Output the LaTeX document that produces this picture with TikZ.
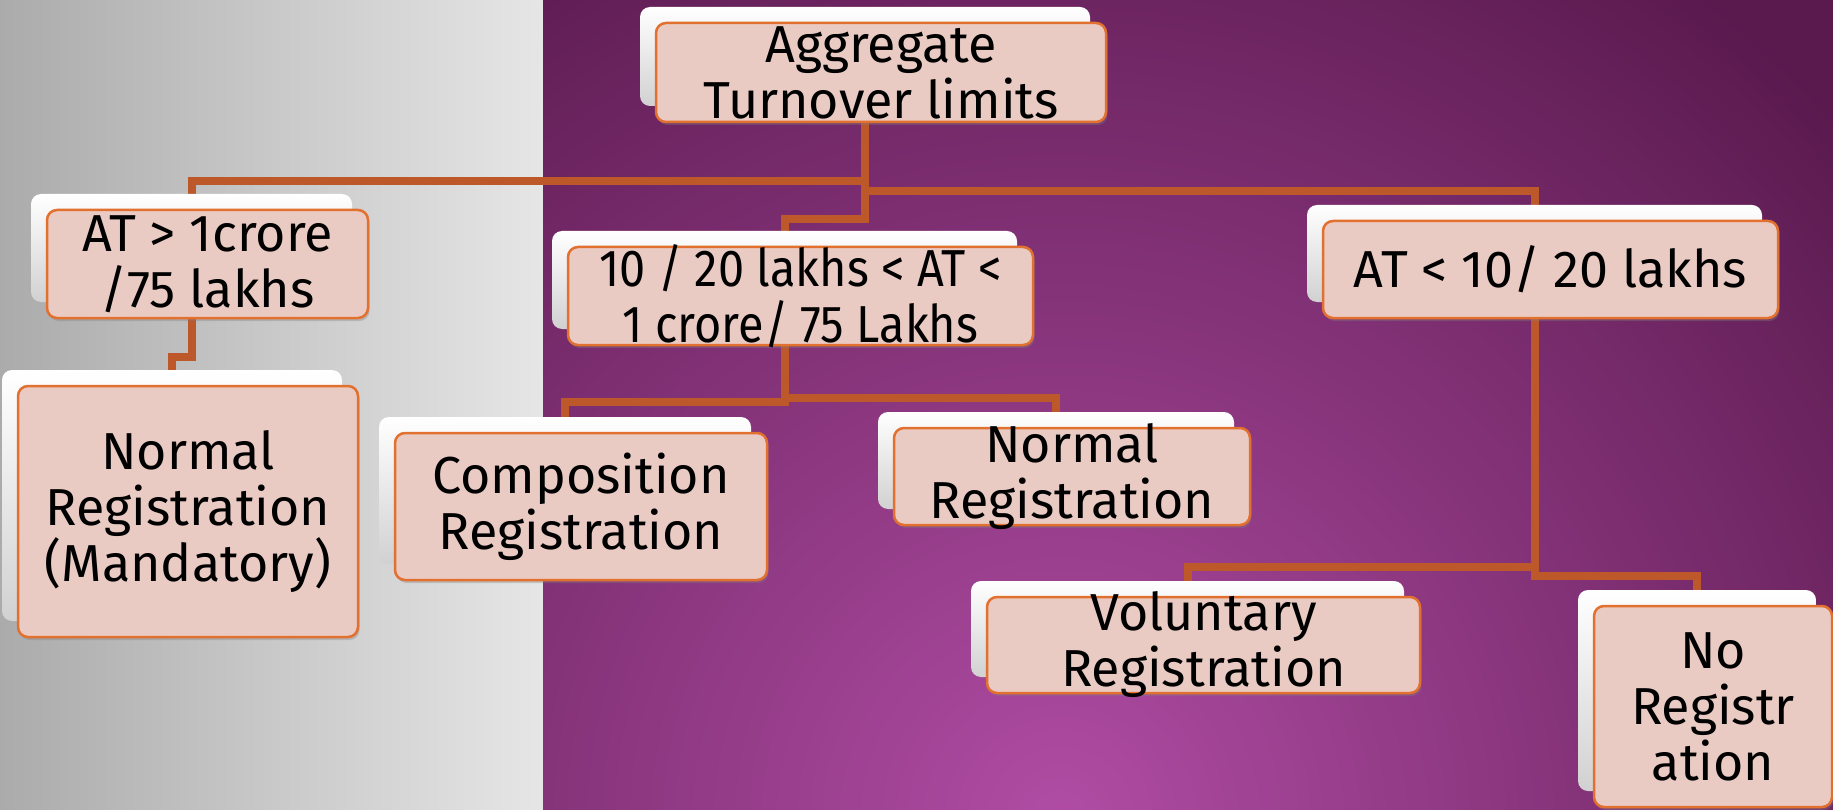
\documentclass[tikz,border=0pt]{standalone}
\usepackage{fontspec}
\setmainfont{Fira Sans}
\newfontfamily\condfont[FakeStretch=0.9]{Fira Sans}
\usetikzlibrary{calc,shadows}
\definecolor{boxfill}{HTML}{E9CBC4}
\definecolor{boxline}{HTML}{E2702F}
\definecolor{connc}{HTML}{BC5829}
\definecolor{grayL}{HTML}{ABABAB}
\definecolor{grayR}{HTML}{E6E6E6}
\definecolor{purpD}{HTML}{5A1A4E}
\definecolor{purpL}{HTML}{B04CA4}
\pgfdeclarelayer{bg}
\pgfdeclarelayer{lines}
\pgfsetlayers{bg,lines,main}
\tikzset{
  mainbox/.style={draw=boxline, line width=2.5pt, fill=boxfill, rounded corners=10pt,
    inner sep=0pt, drop shadow={opacity=0.35, shadow xshift=1.5pt, shadow yshift=-3pt}},
  backbox/.style={rounded corners=10pt, top color=white, middle color=white,
    bottom color=black!18, inner sep=0pt, draw=none},
  txt/.style={align=center, inner sep=0pt, text=black, font=\fontsize{52}{56}\selectfont},
  conn/.style={draw=connc, line width=8pt},
}
\newcommand\mybox[7][]{%
  \node[backbox, minimum width=#5pt, minimum height=#6pt] (#2b) at ($(#3,#4)+(-16,-16)$) {};
  \node[mainbox, minimum width=#5pt, minimum height=#6pt] (#2) at (#3,#4) {};
  \node[txt,#1] (#2t) at (#2.center) {#7};
}
\begin{document}
\begin{tikzpicture}[x=1pt,y=-1pt]
\useasboundingbox (0,0) rectangle (1833,810);
\begin{pgfonlayer}{bg}
  \fill[left color=grayL, right color=grayR] (0,0) rectangle (543,810);
  \begin{scope}
    \clip (543,0) rectangle (1833,810);
    \fill[purpD] (543,0) rectangle (1833,810);
    \shade[inner color=purpL, outer color=purpD] (1060,820) circle[radius=1050];
  \end{scope}
\end{pgfonlayer}

\mybox{agg}{881}{72.5}{450}{99}{Aggregate\\Turnover limits}
\mybox{at1}{207.5}{264}{321}{108}{AT > 1crore\\/75 lakhs}
\mybox{man}{188}{511.5}{340}{251}{Normal\\Registration\\(Mandatory)}
\mybox{comp}{581}{506.5}{372}{147}{Composition\\Registration}
\mybox[font=\condfont\fontsize{52}{56}\selectfont]{mid}{800.5}{296}{465}{98}{10 / 20 lakhs < AT <\\1 crore/ 75 Lakhs}
\mybox{nrm}{1072}{476.5}{356}{97}{Normal\\Registration}
\mybox{atl}{1550.5}{269.5}{455}{97}{AT < 10/ 20 lakhs}
\mybox{vol}{1203.5}{645}{433}{96}{Voluntary\\Registration}
\mybox{nor}{1713}{706.5}{238}{201}{No\\Registr\\ation}

\coordinate (yA) at (0,181);
\coordinate (yB) at (0,191);
\coordinate (yC) at (0,219);
\coordinate (yD) at (0,357);
\coordinate (yE) at (0,402);
\coordinate (yF) at (0,398);
\coordinate (yG) at (0,567);
\coordinate (yH) at (0,576);

\begin{pgfonlayer}{lines}
  \draw[conn] (aggb.south) -- (aggb.south |- yA) -| (at1b.north);
  \draw[conn] (aggb.south) -- (aggb.south |- yB) -| (atlb.north);
  \draw[conn] (aggb.south) -- (aggb.south |- yC) -| (midb.north);
  \draw[conn] (at1b.south) -- (at1b.south |- yD) -| (manb.north);
  \draw[conn] (midb.south) -- (midb.south |- yE) -| (compb.north);
  \draw[conn] (midb.south) -- (midb.south |- yF) -| (nrmb.north);
  \draw[conn] (atlb.south) -- (atlb.south |- yG) -| (volb.north);
  \draw[conn] (atlb.south) -- (atlb.south |- yH) -| (norb.north);
\end{pgfonlayer}
\end{tikzpicture}
\end{document}
